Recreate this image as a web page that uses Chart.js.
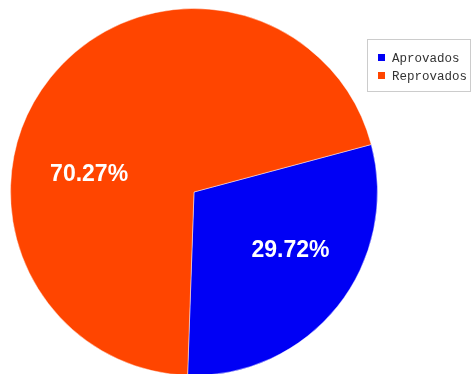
<!DOCTYPE html>
<html>
<head>
<meta charset="utf-8">
<script src="https://cdn.jsdelivr.net/npm/chart.js@4/dist/chart.umd.min.js"></script>
<style>
  html, body { margin: 0; padding: 0; background: #fff; }
  #wrap { width: 474px; height: 374px; position: relative; }
</style>
</head>
<body>
<div id="wrap"><canvas id="pie"></canvas></div>
<script>
const labels = ["Aprovados", "Reprovados"];
const percentages = [29.72, 70.27];
const sliceColors = ["#0000f5", "#ff4500"];

// where each percentage sits: turn (deg) off the slice middle, and fraction of radius
const labelSpots = [
  { turn: -7.9, dist: 0.611 },
  { turn: -28.2, dist: 0.581 },
];

// white percentage text inside each slice
const sliceText = {
  id: "sliceText",
  afterDatasetsDraw(chart) {
    const ctx = chart.ctx;
    const arcs = chart.getDatasetMeta(0).data;
    ctx.save();
    ctx.font = "bold 23px 'Liberation Sans', Arial, sans-serif";
    ctx.fillStyle = "#ffffff";
    ctx.textAlign = "center";
    ctx.textBaseline = "alphabetic";
    arcs.forEach((arc, i) => {
      const spot = labelSpots[i];
      const mid = (arc.startAngle + arc.endAngle) / 2 + spot.turn * Math.PI / 180;
      const r = arc.outerRadius * spot.dist;
      const x = arc.x + Math.cos(mid) * r;
      const y = arc.y + Math.sin(mid) * r;
      ctx.fillText(percentages[i].toFixed(2) + "%", x, y + 8.3);
    });
    ctx.restore();
  }
};

// boxed legend in the top right corner
const boxLegend = {
  id: "boxLegend",
  afterDraw(chart) {
    const ctx = chart.ctx;
    ctx.save();
    ctx.fillStyle = "#ffffff";
    ctx.fillRect(367.5, 39.5, 103, 52);
    ctx.strokeStyle = "#cccccc";
    ctx.lineWidth = 1;
    ctx.strokeRect(367.5, 39.5, 103, 52);
    ctx.font = "12.5px 'Liberation Mono', 'Courier New', monospace";
    ctx.textBaseline = "alphabetic";
    ctx.textAlign = "left";
    chart.data.labels.forEach((name, i) => {
      const top = 54 + i * 18;
      ctx.fillStyle = chart.data.datasets[0].backgroundColor[i];
      ctx.fillRect(378, top, 7, 7);
      ctx.fillStyle = "#333333";
      ctx.fillText(name, 392, top + 7.5);
    });
    ctx.restore();
  }
};

new Chart(document.getElementById("pie"), {
  type: "pie",
  plugins: [sliceText, boxLegend],
  data: {
    labels: labels,
    datasets: [{
      data: percentages,
      backgroundColor: sliceColors,
      borderColor: "rgba(255,255,255,0.45)",
      borderWidth: 1,
      radius: 183.5,
      clip: false,
    }],
  },
  options: {
    responsive: true,
    maintainAspectRatio: false,
    animation: false,
    rotation: 75,
    layout: { padding: { left: 10, right: 96, top: 10, bottom: 0 } },
    plugins: {
      legend: { display: false },
      tooltip: { enabled: false },
    },
  },
});
</script>
</body>
</html>
